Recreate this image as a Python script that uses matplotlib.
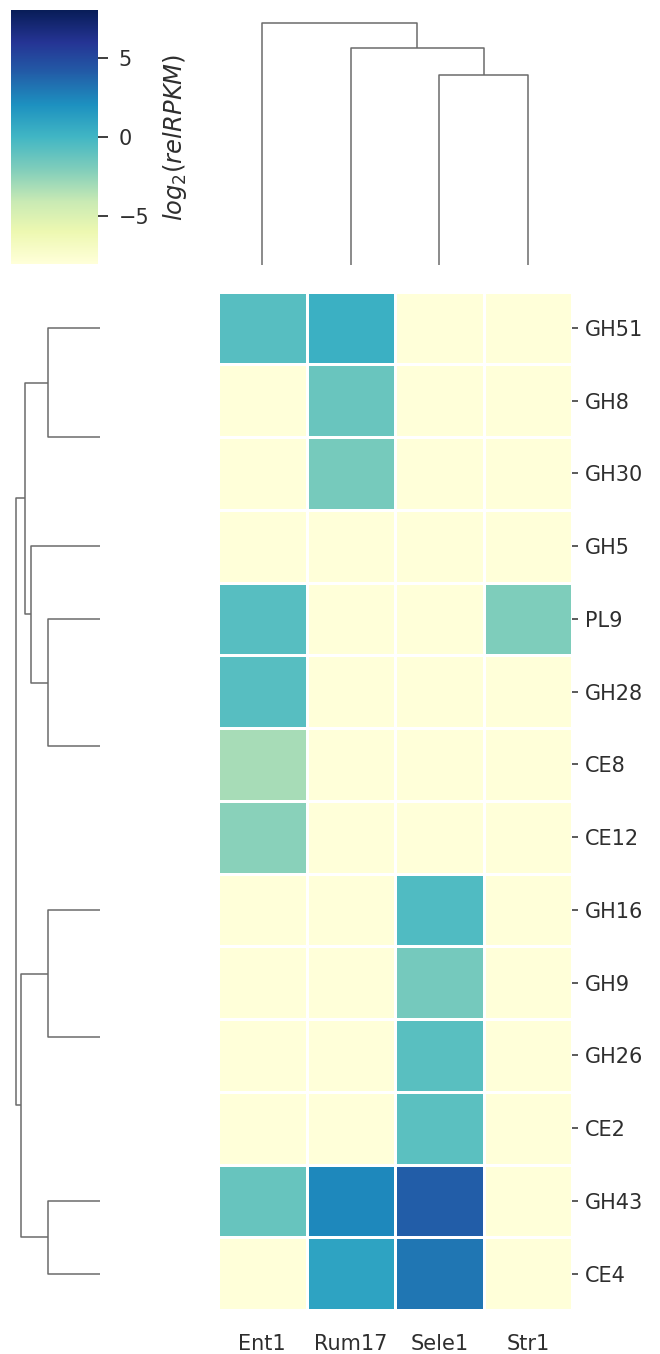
import numpy as np
import matplotlib
matplotlib.use("Agg")
import matplotlib.pyplot as plt

# ---------------- data ----------------
rows = ["GH51", "GH8", "GH30", "GH5", "PL9", "GH28", "CE8", "CE12",
        "GH16", "GH9", "GH26", "CE2", "GH43", "CE4"]
cols = ["Ent1", "Rum17", "Sele1", "Str1"]

ent1 = [-0.75, -8, -8, -8, -0.75, -0.75, -3.1, -2.3, -8, -8, -8, -8, -1.2, -8]
rum17 = [0.35, -1.3, -1.7, -8, -8, -8, -8, -8, -8, -8, -8, -8, 2.35, 1.05]
sele1 = [-8, -8, -8, -8, -8, -8, -8, -8, -0.5, -1.65, -0.8, -0.85, 4.05, 3.0]
str1 = [-8, -8, -8, -8, -1.95, -8, -8, -8, -8, -8, -8, -8, -8, -8]

# linkage (child_a, child_b, height) in scipy style; leaves are 0..n-1 in display order
row_linkage = [
    (1, 2, 0.0), (6, 7, 0.0), (5, 15, 0.0), (10, 11, 0.0), (9, 17, 0.0),
    (0, 14, 0.62), (4, 16, 0.62), (3, 20, 0.818), (19, 21, 0.89),
    (8, 18, 0.62), (12, 13, 0.62), (23, 24, 0.941), (22, 25, 1.0),
]
col_linkage = [(2, 3, 0.787), (1, 4, 0.899), (0, 5, 1.0)]

cbar_ticks = [-5, 0, 5]
vmin, vmax = -8, 8

# ---------------- helpers ----------------
def dendro_segments(linkage, n):
    pos = {i: i + 0.5 for i in range(n)}
    hgt = {i: 0.0 for i in range(n)}
    segs = []
    for k, (a, b, h) in enumerate(linkage):
        node = n + k
        if h > 0:  # zero-distance merges collapse onto the leaf edge (not visible)
            segs.append(([pos[a], pos[a], pos[b], pos[b]], [hgt[a], h, h, hgt[b]]))
        pos[node] = (pos[a] + pos[b]) / 2
        hgt[node] = h
    return segs

text_color = "#2e2e2e"
line_color = "#6b6b6b"
fs = 15

W, H = 660, 1354
fig = plt.figure(figsize=(W / 100, H / 100), dpi=100)

def ax_px(x0, y0, x1, y1):
    return fig.add_axes([x0 / W, 1 - y1 / H, (x1 - x0) / W, (y1 - y0) / H])

hm_x0, hm_x1, hm_y0, hm_y1 = 218, 572, 291.6, 1310

# heatmap
ax = ax_px(hm_x0, hm_y0, hm_x1, hm_y1)
data = np.array([ent1, rum17, sele1, str1]).T
mesh = ax.pcolormesh(np.arange(len(cols) + 1), np.arange(len(rows) + 1), data,
                     cmap="YlGnBu", vmin=vmin, vmax=vmax,
                     edgecolors="white", linewidth=1.0)
ax.set_xlim(0, len(cols))
ax.set_ylim(len(rows), 0)
for s in ax.spines.values():
    s.set_visible(False)
ax.set_xticks(np.arange(len(cols)) + 0.5)
ax.set_xticklabels(cols)
ax.set_yticks(np.arange(len(rows)) + 0.5)
ax.set_yticklabels(rows)
ax.yaxis.tick_right()
ax.tick_params(axis="x", length=0, pad=17, labelsize=fs, colors=text_color)
ax.tick_params(axis="y", length=4.5, width=1.1, pad=5, labelsize=fs,
               colors=text_color, left=False, right=True)

# row dendrogram
axr = ax_px(11.5, hm_y0, 100, hm_y1)
for xs, ys in dendro_segments(row_linkage, len(rows)):
    axr.plot(ys, xs, color=line_color, lw=1.1, solid_capstyle="butt")
rmax = max(h for _, _, h in row_linkage)
axr.set_xlim(rmax * 1.05, 0)
axr.set_ylim(len(rows), 0)
axr.axis("off")

# column dendrogram
axc = ax_px(hm_x0, 11, hm_x1, 265)
for xs, ys in dendro_segments(col_linkage, len(cols)):
    axc.plot(xs, ys, color=line_color, lw=1.1, solid_capstyle="butt")
cmax = max(h for _, _, h in col_linkage)
axc.set_ylim(0, cmax * 1.05)
axc.set_xlim(0, len(cols))
axc.axis("off")

# colorbar
cax = ax_px(11, 10, 98, 264)
cb = fig.colorbar(mesh, cax=cax, ticks=cbar_ticks)
cb.outline.set_linewidth(0)
cax.tick_params(length=7, width=1.3, pad=8, labelsize=fs, colors=text_color)
cb.set_label(r"$log_2(relRPKM)$", fontsize=17.5, color=text_color, labelpad=8)

fig.savefig("out.png", dpi=100, facecolor="white")
